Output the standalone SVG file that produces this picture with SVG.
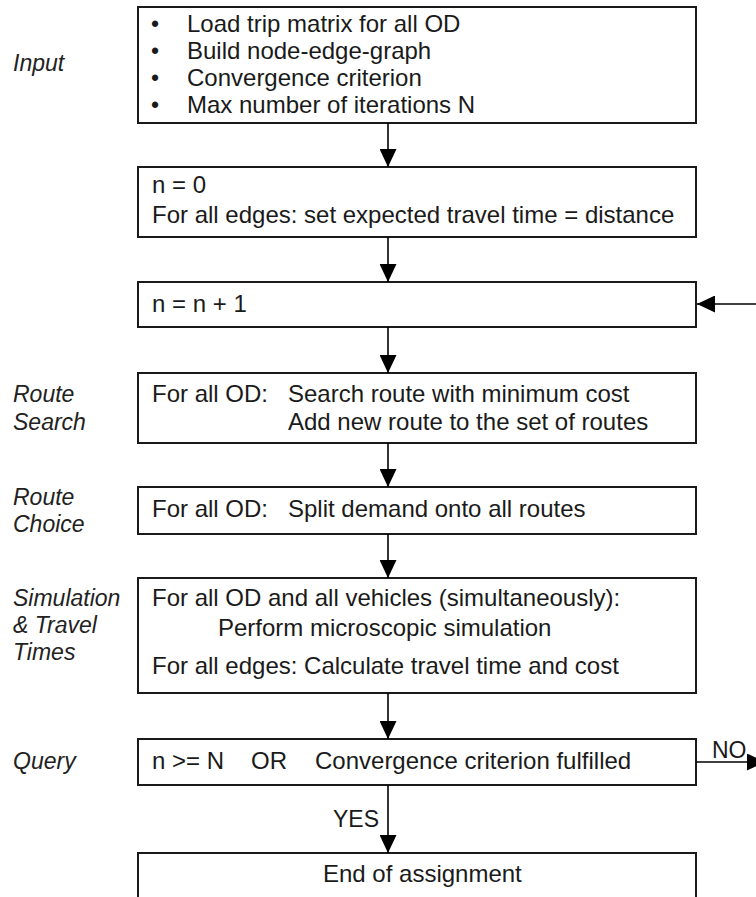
<svg xmlns="http://www.w3.org/2000/svg" width="756" height="897" viewBox="0 0 756 897">
<defs>
<style>
.box{fill:#fff;stroke:#1a1a1a;stroke-width:2}
.t{font-family:"Liberation Sans",Arial,sans-serif;font-size:24px;fill:#1a1a1a}
.s{font-family:"Liberation Sans",Arial,sans-serif;font-size:23px;fill:#1a1a1a}
.lbl{font-family:"Liberation Sans",Arial,sans-serif;font-size:23px;font-style:italic;fill:#222}
.c{stroke:#000;stroke-width:1.6;fill:none;marker-end:url(#ah)}
</style>
<marker id="ah" viewBox="0 0 18 17" refX="18" refY="8.5" markerWidth="18" markerHeight="17" orient="auto" markerUnits="userSpaceOnUse"><path d="M0,0 L18,8.5 L0,17 z" fill="#000"/></marker>
</defs>
<rect width="756" height="897" fill="#fff"/>
<g id="labels">
<text class="lbl" x="13" y="71">Input</text>
<text class="lbl" x="13" y="402">Route</text>
<text class="lbl" x="13" y="430">Search</text>
<text class="lbl" x="13" y="505">Route</text>
<text class="lbl" x="13" y="532">Choice</text>
<text class="lbl" x="13" y="606">Simulation</text>
<text class="lbl" x="13" y="633">&amp; Travel</text>
<text class="lbl" x="13" y="660">Times</text>
<text class="lbl" x="13" y="769">Query</text>
</g>
<g id="input">
<rect class="box" x="138" y="7" width="558" height="116"/>
<text class="s" x="151" y="32">•</text><text class="t" x="187" y="32">Load trip matrix for all OD</text>
<text class="s" x="151" y="59">•</text><text class="t" x="187" y="59">Build node-edge-graph</text>
<text class="s" x="151" y="86">•</text><text class="t" x="187" y="86">Convergence criterion</text>
<text class="s" x="151" y="113">•</text><text class="t" x="187" y="113">Max number of iterations N</text>
</g>
<g id="init">
<rect class="box" x="138" y="167" width="558" height="70"/>
<text class="t" x="152" y="193">n = 0</text>
<text class="t" x="152" y="223">For all edges: set expected travel time = distance</text>
</g>
<g id="increment">
<rect class="box" x="138" y="282" width="558" height="45"/>
<text class="t" x="152" y="312">n = n + 1</text>
</g>
<g id="routesearch">
<rect class="box" x="138" y="373" width="558" height="70"/>
<text class="t" x="152" y="402">For all OD:</text>
<text class="t" x="288" y="402">Search route with minimum cost</text>
<text class="t" x="288" y="430">Add new route to the set of routes</text>
</g>
<g id="routechoice">
<rect class="box" x="138" y="487" width="558" height="47"/>
<text class="t" x="152" y="517">For all OD:</text>
<text class="t" x="288" y="517">Split demand onto all routes</text>
</g>
<g id="simulation">
<rect class="box" x="138" y="578" width="558" height="115"/>
<text class="t" x="152" y="606">For all OD and all vehicles (simultaneously):</text>
<text class="t" x="218" y="636">Perform microscopic simulation</text>
<text class="t" x="152" y="674">For all edges: Calculate travel time and cost</text>
</g>
<g id="query">
<rect class="box" x="138" y="739" width="558" height="46"/>
<text class="t" x="152" y="769">n &gt;= N</text>
<text class="t" x="251" y="769">OR</text>
<text class="t" x="315" y="769">Convergence criterion fulfilled</text>
</g>
<g id="end">
<rect class="box" x="138" y="853" width="558" height="60"/>
<text class="t" x="323" y="882">End of assignment</text>
</g>
<g id="connectors">
<line class="c" x1="388" y1="123" x2="388" y2="167"/>
<line class="c" x1="388" y1="237" x2="388" y2="282"/>
<line class="c" x1="388" y1="327" x2="388" y2="373"/>
<line class="c" x1="388" y1="443" x2="388" y2="487"/>
<line class="c" x1="388" y1="534" x2="388" y2="578"/>
<line class="c" x1="388" y1="693" x2="388" y2="739"/>
<line class="c" x1="388" y1="785" x2="388" y2="853"/>
<line class="c" x1="696" y1="762" x2="765" y2="762"/>
<line class="c" x1="756" y1="304" x2="697" y2="304"/>
<text class="s" x="333" y="827">YES</text>
<text class="s" x="712" y="758">NO</text>
</g>
</svg>
